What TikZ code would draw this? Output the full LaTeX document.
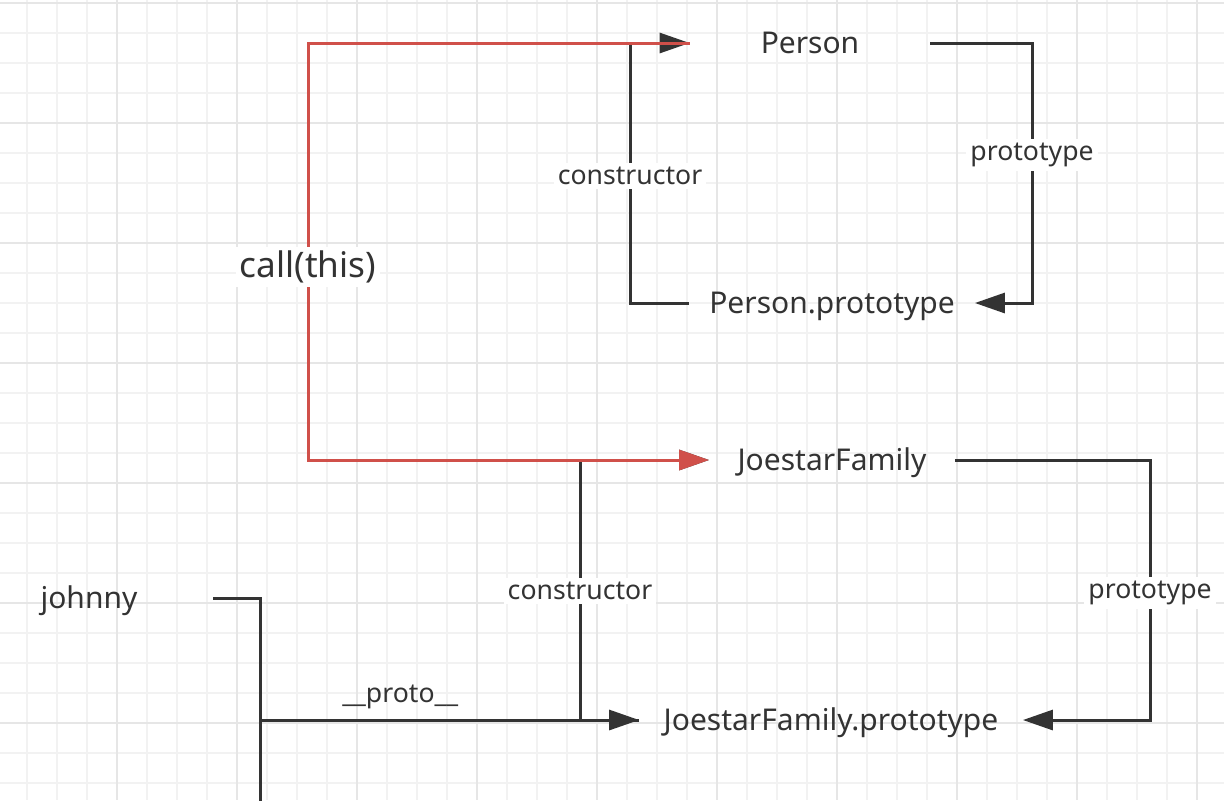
\documentclass[tikz,border=0pt]{standalone}
\usepackage{fontspec}
\setmainfont{Noto Sans}
\usepackage{tikz}
\usetikzlibrary{arrows.meta}
\usetikzlibrary{positioning}
\definecolor{ink}{HTML}{333333}
\definecolor{callred}{HTML}{D0504A}
\definecolor{gridlo}{HTML}{F2F2F2}
\definecolor{gridhi}{HTML}{E6E6E6}

\begin{document}
\begin{tikzpicture} [
                x=0.5pt, y=-0.5pt,
                obj/.style = {inner sep=0pt, minimum height=20pt, text height=10.7pt, text depth=0pt, font=\fontsize{15}{18}\selectfont, text=ink},
                lbl/.style = {fill=white, inner sep=2pt, font=\fontsize{13.3}{16}\selectfont, text=ink},
                link/.style = {draw=ink, line width=1.5pt, -{Triangle[length=15pt,width=10pt]}},
                plain/.style = {draw=ink, line width=1.5pt},
                callline/.style = {draw=callred, line width=1.5pt, -{Triangle[length=15pt,width=10pt,fill=callred]}}
            ]
            \useasboundingbox (0,0) rectangle (1224,800);
            \fill[white] (0,0) rectangle (1224,800);
            \foreach \x in {27,57,...,1224} \draw[gridlo, line width=1pt] (\x,0) -- (\x,800);
            \foreach \y in {3,33,...,800} \draw[gridlo, line width=1pt] (0,\y) -- (1224,\y);
            \foreach \x in {117,237,...,1224} \draw[gridhi, line width=1pt] (\x,0) -- (\x,800);
            \foreach \y in {3,123,...,800} \draw[gridhi, line width=1pt] (0,\y) -- (1224,\y);
            \node (person) at (810,43) [obj, minimum width=120pt] {Person};
            \node (pproto) at (832,303) [obj, minimum width=142.5pt] {Person.prototype};
            \node (joestar) at (832,460) [obj, minimum width=122.5pt] {JoestarFamily};
            \node (jproto) at (831,720) [obj, minimum width=191.5pt] {JoestarFamily.prototype};
            \node (johnny) at (89,598) [obj, minimum width=124pt] {johnny};
            \coordinate (fork) at (260,720);
            \coordinate (down) at (260,812);
            \draw [link] (pproto.west) -| (630,176) node[lbl] {constructor} |- (person.west);
            \draw [link] (person.east) -| (1032,155) node[lbl] {prototype} |- (pproto.east);
            \draw [link] (jproto.west) -| (580,591) node[lbl] {constructor} |- (joestar.west);
            \draw [link] (joestar.east) -| (1150,593) node[lbl] {prototype} |- (jproto.east);
            \draw [plain] (johnny.east) -| (down);
            \draw [link] (fork) -- node[pos=0.37, above=5pt, inner sep=0pt, font=\fontsize{13.3}{16}\selectfont, text=ink] {\_\_proto\_\_} (jproto.west);
            \draw [callline] (person.west) -| (308,267) node[lbl, font=\fontsize{17.6}{21}\selectfont] {call(this)} |- (joestar.west);
        \end{tikzpicture}
\end{document}
